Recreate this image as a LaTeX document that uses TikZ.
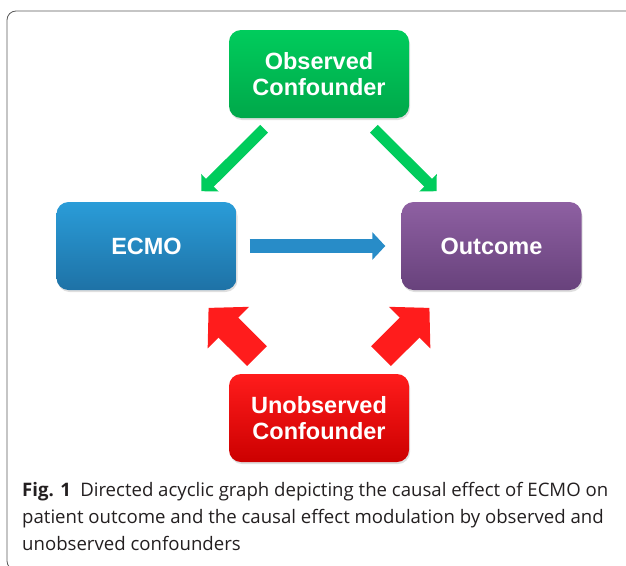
\documentclass[tikz,border=0pt]{standalone}
\usepackage{fontspec}
\setmainfont{Liberation Sans}
\newfontfamily\capfont{Open Sans}
\usetikzlibrary{arrows.meta,positioning,shadows}

\definecolor{obsgreen}{RGB}{0,204,92}
\definecolor{obsgreendark}{RGB}{0,168,74}
\definecolor{ecmoblue}{RGB}{42,156,216}
\definecolor{ecmobluedark}{RGB}{30,114,166}
\definecolor{outpurple}{RGB}{142,96,162}
\definecolor{outpurpledark}{RGB}{104,66,124}
\definecolor{unred}{RGB}{255,28,28}
\definecolor{unreddark}{RGB}{204,0,0}
\definecolor{arrowblue}{RGB}{40,140,200}
\definecolor{framegray}{RGB}{90,90,90}
\definecolor{captext}{RGB}{35,31,32}

\tikzset{
  box/.style={rectangle,rounded corners=12pt,minimum width=180pt,minimum height=88pt,
    text=white,align=center,font=\fontsize{23.5}{26}\selectfont\bfseries,
    drop shadow={shadow xshift=1pt,shadow yshift=-2pt,opacity=0.25}},
  greenarrow/.style={draw=obsgreen,line width=11pt,-{Triangle[length=12pt,width=24pt]}},
  bluearrow/.style={draw=arrowblue,line width=14pt,-{Triangle[length=13pt,width=27pt]}},
  redarrow/.style={draw=unred,line width=28pt,-{Triangle[length=28pt,width=57pt]}}
}

\begin{document}
\begin{tikzpicture}[x=1pt,y=-1pt,node distance=172pt,on grid]
  \clip (0,0) rectangle (626,565);
  \useasboundingbox (0,0) rectangle (626,565);
  \draw[framegray,line width=0.8pt,rounded corners=9pt] (7,11) rectangle (640,570);

  \node[box,top color=obsgreen,bottom color=obsgreendark] (obs) at (319,74) {Observed\\Confounder};
  \node[box,top color=ecmoblue,bottom color=ecmobluedark] (ecmo) [below left=172pt and 172.5pt of obs] {ECMO};
  \node[box,top color=outpurple,bottom color=outpurpledark] (out) [below right=172pt and 172.5pt of obs] {Outcome};
  \node[box,top color=unred,bottom color=unreddark] (unobs) [below=344pt of obs] {Unobserved\\Confounder};

  \draw[greenarrow,shorten <=15pt,shorten >=15pt] (obs) -- (ecmo);
  \draw[greenarrow,shorten <=15pt,shorten >=15pt] (obs) -- (out);
  \draw[bluearrow,shorten <=13pt,shorten >=16pt] (ecmo) -- (out);
  \draw[redarrow,shorten <=25pt,shorten >=25pt] (unobs) -- (ecmo);
  \draw[redarrow,shorten <=25pt,shorten >=25pt] (unobs) -- (out);

  \node[anchor=north west,inner sep=0pt,align=left,text=captext,
        font=\capfont\fontsize{18.6}{27}\selectfont] (caption) at (22,482)
    {\textbf{Fig. 1}\enspace Directed acyclic graph depicting the causal effect of ECMO on\\
     patient outcome and the causal effect modulation by observed and\\
     unobserved confounders};
\end{tikzpicture}
\end{document}
